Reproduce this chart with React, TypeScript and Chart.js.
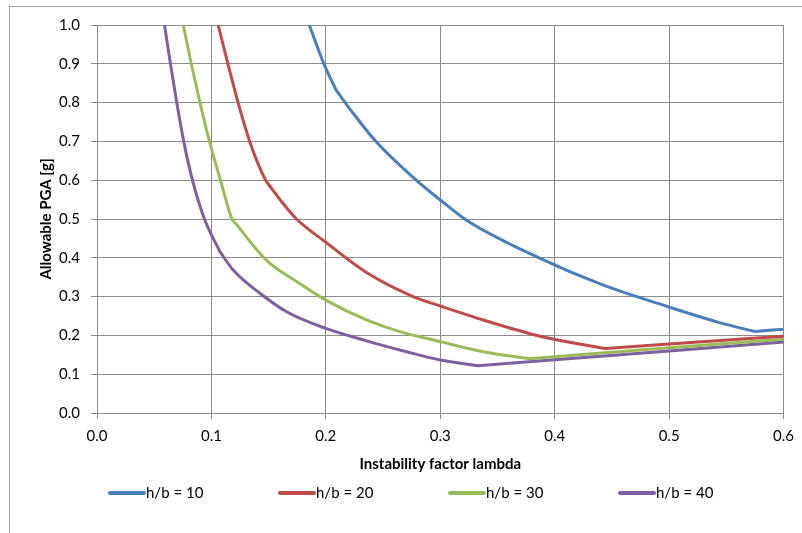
import React, { useEffect, useRef } from "react";
import { Chart, registerables } from "chart.js";

Chart.register(...registerables);

const seriesNames = ["h/b = 10", "h/b = 20", "h/b = 30", "h/b = 40"];
const seriesColors = ["#4A7EBB", "#BE4B48", "#9BBB59", "#7D60A0"];

const x10 = [0.1855, 0.1983, 0.209, 0.224, 0.244, 0.279, 0.3, 0.323, 0.3854, 0.442, 0.5, 0.544, 0.575, 0.6];
const y10 = [1.0, 0.9, 0.832, 0.772, 0.699, 0.6, 0.549, 0.497, 0.401, 0.33, 0.273, 0.233, 0.21, 0.216];
const corners10 = [0.209, 0.575];

const x20 = [0.1059, 0.1144, 0.1233, 0.1334, 0.1474, 0.151, 0.16, 0.1744, 0.2, 0.2355, 0.2763, 0.3, 0.3374, 0.387, 0.4445, 0.5, 0.6];
const y20 = [1.0, 0.9, 0.8, 0.7, 0.6, 0.585, 0.55, 0.5, 0.44, 0.362, 0.3, 0.2758, 0.2397, 0.198, 0.166, 0.178, 0.198];
const corners20 = [0.151, 0.4445];

const x30 = [0.0754, 0.0824, 0.09, 0.0983, 0.1079, 0.118, 0.121, 0.148, 0.177, 0.2, 0.2355, 0.2646, 0.3, 0.3374, 0.378, 0.5, 0.6];
const y30 = [1.0, 0.9, 0.8, 0.7, 0.6, 0.5, 0.489, 0.394, 0.334, 0.291, 0.24, 0.2096, 0.184, 0.158, 0.14, 0.168, 0.19];
const corners30 = [0.121, 0.378];

const x40 = [0.059, 0.0642, 0.0697, 0.0758, 0.0834, 0.0939, 0.1074, 0.119, 0.1424, 0.1657, 0.2, 0.2355, 0.2705, 0.3, 0.333, 0.5, 0.6];
const y40 = [1.0, 0.9, 0.8, 0.7, 0.6, 0.5, 0.416, 0.3686, 0.3085, 0.261, 0.218, 0.186, 0.158, 0.1366, 0.122, 0.16, 0.183];
const corners40 = [0.1074, 0.333];

const xs = [x10, x20, x30, x40];
const ys = [y10, y20, y30, y40];
const corners = [corners10, corners20, corners30, corners40];

const FONT = "Lato, 'Open Sans', sans-serif";

const cornerPlugin = {
  id: "sharpCorners",
  beforeDatasetDraw(chart: any, args: any) {
    const meta = args.meta;
    const line = meta.dataset;
    if (!line) return;
    line.updateControlPoints(chart.chartArea, "x");
    const pts = meta.data;
    const raw = chart.data.datasets[args.index].data;
    const cs = corners[args.index] || [];
    for (let i = 1; i < pts.length - 1; i++) {
      if (!cs.includes(raw[i].x)) continue;
      const p = pts[i], a = pts[i - 1], b = pts[i + 1];
      p.cp1x = p.x - (p.x - a.x) / 3;
      p.cp1y = p.y - (p.y - a.y) / 3;
      p.cp2x = p.x + (b.x - p.x) / 3;
      p.cp2y = p.y + (b.y - p.y) / 3;
    }
  },
};

const legendPlugin = {
  id: "excelLegend",
  afterDraw(chart: any) {
    const ctx = chart.ctx;
    const ca = chart.chartArea;
    const spacing = 170;
    const startX = ca.left + 11;
    const y = ca.bottom + 80;
    ctx.save();
    chart.data.datasets.forEach((ds: any, i: number) => {
      const x0 = startX + i * spacing;
      ctx.strokeStyle = ds.borderColor;
      ctx.lineWidth = 4;
      ctx.lineCap = "round";
      ctx.beginPath();
      ctx.moveTo(x0 + 2, y);
      ctx.lineTo(x0 + 36, y);
      ctx.stroke();
      ctx.fillStyle = "#000";
      ctx.font = `15px ${FONT}`;
      ctx.textBaseline = "middle";
      ctx.textAlign = "left";
      ctx.fillText(ds.label, x0 + 38, y);
    });
    ctx.restore();
  },
};

export default function App() {
  const ref = useRef<HTMLCanvasElement>(null);
  useEffect(() => {
    if (!ref.current) return;
    const datasets = seriesNames.map((name, i) => ({
      label: name,
      data: xs[i].map((x, j) => ({ x, y: ys[i][j] })),
      borderColor: seriesColors[i],
      backgroundColor: seriesColors[i],
      borderWidth: 3,
      pointRadius: 0,
      showLine: true,
      cubicInterpolationMode: "monotone",
      fill: false,
    }));
    const chart = new Chart(ref.current, {
      type: "scatter",
      data: { datasets },
      plugins: [cornerPlugin, legendPlugin],
      options: {
        animation: false,
        responsive: false,
        maintainAspectRatio: false,
        layout: { padding: { left: 37, right: 18, top: 25, bottom: 60 } },
        plugins: {
          tooltip: { enabled: false },
          legend: { display: false },
        },
        scales: {
          x: {
            type: "linear",
            min: 0,
            max: 0.6,
            afterFit: (s: any) => { s.height = 60; },
            ticks: {
              stepSize: 0.1,
              color: "#000",
              font: { family: FONT, size: 15 },
              padding: 8,
              callback: (v: any) => Number(v).toFixed(1),
            },
            grid: { color: "#8a8a8a", lineWidth: 1, tickLength: 6 },
            border: { color: "#8a8a8a" },
            title: {
              display: true,
              text: "Instability factor lambda",
              color: "#000",
              font: { family: FONT, size: 15, weight: "bold" },
              padding: { top: 0, bottom: 0 },
            },
          },
          y: {
            type: "linear",
            min: 0,
            max: 1,
            afterFit: (s: any) => { s.width = 60; },
            ticks: {
              stepSize: 0.1,
              color: "#000",
              font: { family: FONT, size: 15 },
              padding: 11,
              callback: (v: any) => Number(v).toFixed(1),
            },
            grid: { color: "#8a8a8a", lineWidth: 1, tickLength: 6 },
            border: { color: "#8a8a8a" },
            title: {
              display: true,
              text: "Allowable PGA [g]",
              color: "#000",
              font: { family: FONT, size: 15, weight: "bold" },
              padding: { top: 0, bottom: 0 },
            },
          },
        },
      },
    });
    return () => chart.destroy();
  }, []);
  return (
    <div style={{ position: "fixed", left: 0, top: 0, width: 802, height: 533, overflow: "hidden", background: "#fff" }}>
      <div style={{ position: "absolute", left: 9, top: 6, width: 900, height: 700, border: "1px solid #a6a6a6" }} />
      <canvas ref={ref} width={802} height={533} style={{ position: "absolute", left: 0, top: 0 }} />
    </div>
  );
}
